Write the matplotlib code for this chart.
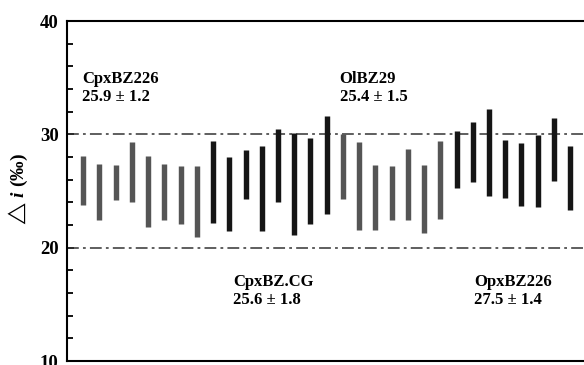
import matplotlib
matplotlib.use("Agg")
import matplotlib.pyplot as plt
from matplotlib.ticker import MultipleLocator

plt.rcParams['font.family'] = ['Liberation Serif', 'DejaVu Serif']
plt.rcParams['mathtext.fontset'] = 'custom'
plt.rcParams['mathtext.rm'] = 'Liberation Serif:bold'
plt.rcParams['mathtext.it'] = 'Liberation Serif:italic:bold'
plt.rcParams['mathtext.bf'] = 'Liberation Serif:bold'
plt.rcParams['mathtext.fallback'] = 'stix'
plt.rcParams['lines.scale_dashes'] = False

# range bars (low, high) per analysis, four groups
groups = ["CpxBZ226", "CpxBZ.CG", "OlBZ29", "OpxBZ226"]
group_stats = ["25.9 ± 1.2", "25.6 ± 1.8", "25.4 ± 1.5", "27.5 ± 1.4"]
lows = [
    [23.8, 22.4, 24.2, 24.0, 21.8, 22.4, 22.1, 20.9],
    [22.2, 21.5, 24.3, 21.5, 24.0, 21.1, 22.1, 23.0],
    [24.3, 21.6, 21.6, 22.4, 22.4, 21.3, 22.5],
    [25.3, 25.8, 24.6, 24.4, 23.7, 23.6, 25.9, 23.3],
]
highs = [
    [28.1, 27.4, 27.3, 29.3, 28.1, 27.4, 27.2, 27.2],
    [29.4, 28.0, 28.6, 29.0, 30.5, 30.1, 29.7, 31.6],
    [30.0, 29.3, 27.3, 27.2, 28.7, 27.3, 29.4],
    [30.3, 31.1, 32.2, 29.5, 29.2, 29.9, 31.4, 29.0],
]
bar_colors = ["#555555", "#151515", "#555555", "#151515"]
ref_lines = [20, 30]

fig = plt.figure(figsize=(5.84, 3.65), dpi=100)
ax = fig.add_axes([67 / 584, 4 / 365, 533 / 584, 340 / 365])

x = 1
for lo, hi, c in zip(lows, highs, bar_colors):
    xs = list(range(x, x + len(lo)))
    ax.vlines(xs, lo, hi, colors=c, linewidth=3.9, zorder=3)
    x += len(lo)

for yv in ref_lines:
    ax.axhline(yv, color="#333333", linewidth=1.1,
               linestyle=(0, (8.5, 3, 2, 3)), zorder=2)

# group annotations
label_pos = [(0.92, 35.6), (10.25, 17.7), (16.8, 35.6), (25.08, 17.7)]
for name, stat, (tx, ty) in zip(groups, group_stats, label_pos):
    ax.text(tx, ty, name + "\n" + stat, fontsize=12, fontweight="bold",
            va="top", ha="left", linespacing=1.15)

ax.set_xlim(0, 533 / 16.23)
ax.set_ylim(10, 40)
ax.yaxis.set_major_locator(MultipleLocator(10))
ax.yaxis.set_minor_locator(MultipleLocator(2))
ax.tick_params(axis="y", which="both", direction="in", width=1.3, pad=6)
ax.tick_params(axis="y", which="major", length=5)
ax.tick_params(axis="y", which="minor", length=4)
ax.tick_params(axis="x", which="both", bottom=False, labelbottom=False)
for lab in ax.get_yticklabels():
    lab.set_fontweight("bold")
    lab.set_fontsize(13.5)

for s in ax.spines.values():
    s.set_linewidth(1.5)

ax.set_ylabel("$\\triangle\\,i$ (‰)", fontsize=14, fontweight="bold")
ax.yaxis.set_label_coords(-37 / 533, 0.5)

fig.savefig("out.png", dpi=100)
